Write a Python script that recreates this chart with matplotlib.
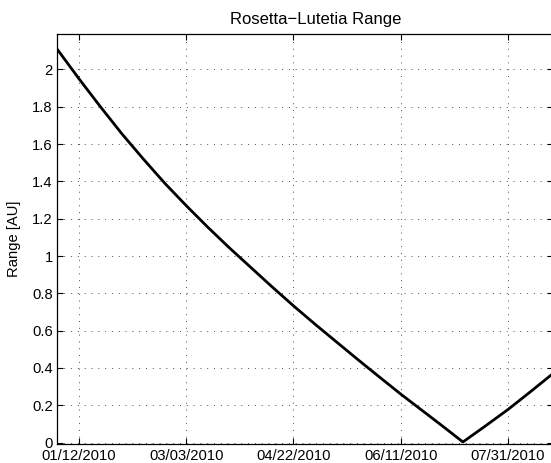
import datetime as dt

import matplotlib
matplotlib.use('Agg')
from matplotlib import dates as mdates, pyplot as plt

# sampled off the reference curve (date, range in AU)
sample_dates = [
    '2010-01-01 18:00', '2010-01-12', '2010-01-22', '2010-02-01', '2010-02-11',
    '2010-02-21', '2010-03-03', '2010-03-13', '2010-03-23', '2010-04-02',
    '2010-04-12', '2010-04-22', '2010-05-02', '2010-05-12', '2010-05-22',
    '2010-06-01', '2010-06-11', '2010-06-21', '2010-07-01', '2010-07-10',
    '2010-07-20', '2010-07-31', '2010-08-10', '2010-08-21',
]
range_au = [
    2.11, 1.95, 1.80, 1.655, 1.52,
    1.39, 1.27, 1.155, 1.045, 0.94,
    0.835, 0.733, 0.635, 0.54, 0.445,
    0.352, 0.26, 0.172, 0.084, 0.003,
    0.085, 0.177, 0.268, 0.37,
]
tick_dates = ['2010-01-12', '2010-03-03', '2010-04-22', '2010-06-11', '2010-07-31']
y_ticks = [0, 0.2, 0.4, 0.6, 0.8, 1, 1.2, 1.4, 1.6, 1.8, 2]

x_start = dt.datetime(2010, 1, 1, 18)
x_end = dt.datetime(2010, 8, 21)

plt.rcParams['font.family'] = ['Liberation Sans', 'DejaVu Sans']

fig = plt.figure(figsize=(5.51, 4.63), dpi=100)
ax = fig.add_axes([57 / 551, 1 - 443.5 / 463, 496 / 551, 409.5 / 463])

x = [dt.datetime.fromisoformat(d) for d in sample_dates]
ax.plot(x, range_au, color='black', linewidth=2)

ax.set_xlim(x_start, x_end)
ax.set_ylim(-0.005, 2.19)
ax.set_xticks([dt.datetime.fromisoformat(d) for d in tick_dates])
ax.xaxis.set_major_formatter(mdates.DateFormatter('%m/%d/%Y'))
ax.set_yticks(y_ticks)
ax.set_yticklabels([f'{v:g}' for v in y_ticks])

ax.grid(True, color='0.3', linestyle=(0, (1, 6)), linewidth=0.7)
ax.tick_params(direction='in', length=4, width=0.8, top=True, right=True,
               labelsize=10.6, colors='black')
ax.tick_params(axis='x', pad=4.3)
ax.tick_params(axis='y', pad=3)
for spine in ax.spines.values():
    spine.set_linewidth(0.9)

ax.set_ylabel('Range [AU]', fontsize=10.6, labelpad=8)
ax.set_title('Rosetta\u2212Lutetia Range', fontsize=12, pad=7)
ax.title.set_x((316 - 57) / 496)

fig.savefig('out.png', dpi=100)
